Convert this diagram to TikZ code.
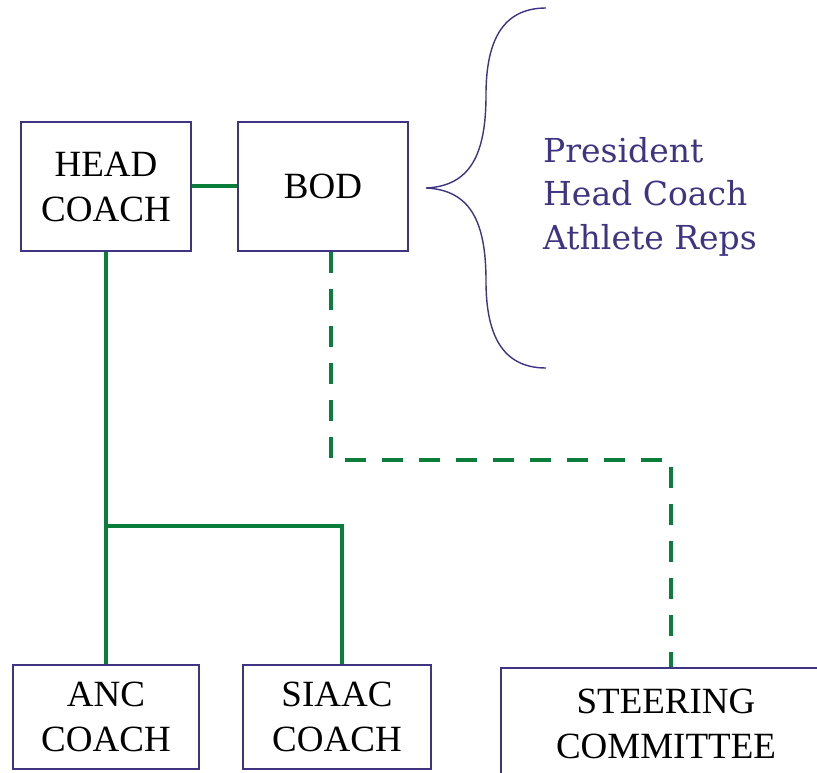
\documentclass[tikz,border=0pt]{standalone}
\usepackage{fontspec}
\setmainfont{Liberation Serif}
\newfontfamily\listfont{DejaVu Serif}
\definecolor{boxpurple}{RGB}{62,52,130}
\definecolor{linkgreen}{RGB}{11,126,59}
\begin{document}
\begin{tikzpicture}[x=1pt,y=-1pt,
  orgbox/.style={draw=boxpurple, line width=2.8pt, fill=white, align=center,
    font=\fontsize{37}{45}\selectfont, inner sep=0pt},
  solidlink/.style={draw=linkgreen, line width=4.6pt},
  dashlink/.style={draw=linkgreen, line width=4.6pt, dash pattern=on 21pt off 16pt},
  listtext/.style={text=boxpurple, anchor=base west, inner sep=0pt, font=\listfont\fontsize{33}{43}\selectfont},
  bracepath/.style={draw=boxpurple, line width=1.4pt}]
\useasboundingbox (0,0) rectangle (817,772);
\clip (0,0) rectangle (817,772);

% nodes
\node[orgbox, minimum width=170pt, minimum height=129pt] (head) at (106,186.5) {HEAD\\COACH};
\node[orgbox, minimum width=170pt, minimum height=129pt] (bod) at (323,186.5) {BOD};
\node[orgbox, minimum width=186pt, minimum height=104pt] (anc) at (106,717) {ANC\\COACH};
\node[orgbox, minimum width=188pt, minimum height=104pt] (siaac) at (337,717) {SIAAC\\COACH};
\node[orgbox, minimum width=330pt, minimum height=112pt] (steer) at (666,724) {STEERING\\COMMITTEE};

% brace and list
\coordinate (btop) at (546,8);
\coordinate (btip) at (426,188);
\coordinate (bbot) at (546,368);
\path[bracepath] (btop) .. controls (500,8) and (486,45) .. (486,95)
  .. controls (486,155) and (470,186) .. (btip)
  .. controls (470,190) and (486,221) .. (486,281)
  .. controls (486,331) and (500,368) .. (bbot);
\node[listtext] (l1) at (543,162) {President};
\node[listtext] (l2) at (543,205.5) {Head Coach};
\node[listtext] (l3) at (543,249) {Athlete Reps};

% connectors
\path[solidlink] (head.east |- 0,186) -- (bod.west |- 0,186);
\coordinate (j1) at (106,526);
\coordinate (j2) at (342,526);
\path[solidlink] (head.south) -- (anc.north);
\path[solidlink] (j1) -- (j2) -- (j2 |- siaac.north);
\coordinate (d1) at (331,460);
\coordinate (d2) at (671,460);
\path[dashlink] (d1 |- bod.south) -- (d1) -- (d2) -- (d2 |- steer.north);
\end{tikzpicture}
\end{document}
